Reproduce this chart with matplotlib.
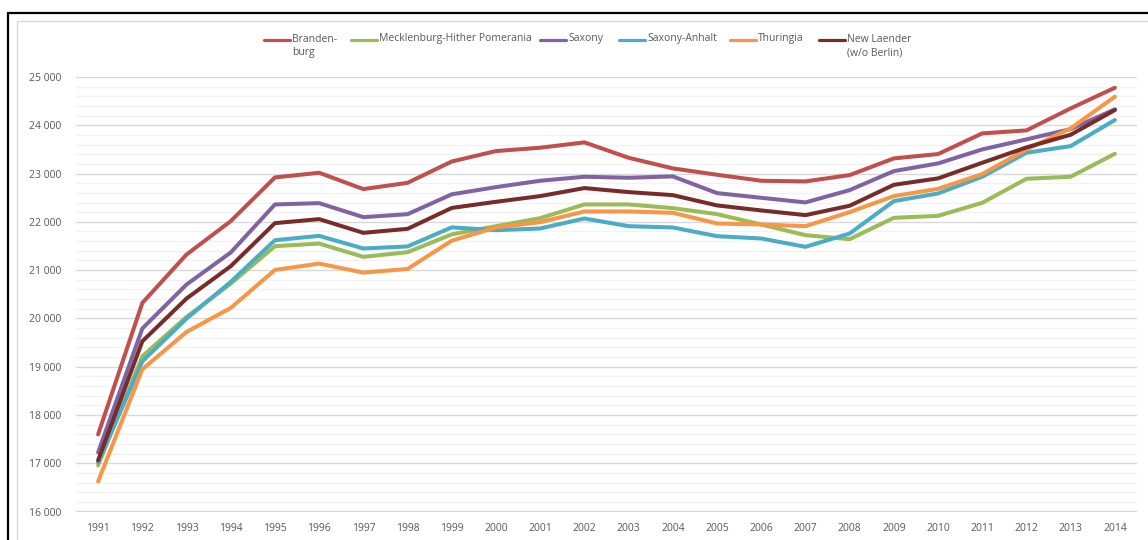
import matplotlib
matplotlib.use("Agg")
import matplotlib.pyplot as plt
from matplotlib.ticker import MultipleLocator, FuncFormatter
from matplotlib.patches import Rectangle
from matplotlib.lines import Line2D

years = list(range(1991, 2015))

brandenburg = [17597, 20320, 21323, 22014, 22920, 23016, 22678, 22808, 23250, 23466, 23535, 23646,
               23327, 23107, 22975, 22851, 22837, 22968, 23314, 23404, 23832, 23894, 24350, 24778]
mecklenburg = [16954, 19214, 20030, 20720, 21495, 21550, 21274, 21371, 21740, 21910, 22076, 22360,
               22360, 22284, 22159, 21945, 21724, 21641, 22083, 22124, 22394, 22892, 22934, 23410]
saxony = [17223, 19790, 20701, 21365, 22360, 22387, 22097, 22159, 22570, 22719, 22851, 22934,
          22913, 22941, 22595, 22498, 22402, 22657, 23051, 23210, 23500, 23708, 23922, 24330]
saxony_anhalt = [17016, 19110, 19996, 20756, 21620, 21709, 21448, 21490, 21886, 21827, 21862, 22069,
                 21910, 21883, 21703, 21655, 21482, 21758, 22429, 22588, 22934, 23431, 23569, 24109]
thuringia = [16622, 18945, 19719, 20216, 21004, 21135, 20948, 21024, 21610, 21883, 21993, 22215,
             22215, 22187, 21966, 21945, 21910, 22201, 22533, 22684, 22989, 23500, 23936, 24592]
new_laender = [17058, 19525, 20411, 21081, 21973, 22056, 21772, 21855, 22288, 22415, 22533, 22699,
               22616, 22553, 22340, 22236, 22139, 22333, 22767, 22900, 23224, 23542, 23804, 24316]

labels = ["Branden-\nburg", "Mecklenburg-Hither Pomerania", "Saxony", "Saxony-Anhalt",
          "Thuringia", "New Laender\n(w/o Berlin)"]
values = [brandenburg, mecklenburg, saxony, saxony_anhalt, thuringia, new_laender]
colors = ["#C0504D", "#9BBB59", "#8064A2", "#4BACC6", "#F79646", "#772C2A"]

plt.rcParams['font.family'] = ['Open Sans', 'DejaVu Sans']

W, H = 1148, 540
fig = plt.figure(figsize=(W / 100, H / 100), dpi=100)
fig.patch.set_facecolor("white")

# outer frames
fig.add_artist(Rectangle((7.5 / W, -0.1), 1.2, (H - 12.5) / H + 0.1, transform=fig.transFigure,
                         fill=False, edgecolor="black", linewidth=1.6))
fig.add_artist(Rectangle((16.5 / W, -0.1), 1.2, (H - 21) / H + 0.1, transform=fig.transFigure,
                         fill=False, edgecolor="#D9D9D9", linewidth=1.0))

left, right = 76 / W, 1137 / W
bottom, top = 1 - 511.5 / H, 1 - 77 / H
ax = fig.add_axes([left, bottom, right - left, top - bottom])

x = list(range(len(years)))
for label, vals, color in zip(labels, values, colors):
    ax.plot(x, vals, color=color, linewidth=2.9, label=label, solid_capstyle="round",
            solid_joinstyle="round")

ax.set_xlim(-0.5, len(years) - 0.5)
ax.set_ylim(16000, 25000)
ax.set_xticks(x)
ax.set_xticklabels([str(y) for y in years])
ax.yaxis.set_major_locator(MultipleLocator(1000))
ax.yaxis.set_minor_locator(MultipleLocator(200))
ax.yaxis.set_major_formatter(FuncFormatter(lambda v, p: f"{int(v):,}".replace(",", " ")))
ax.grid(which="major", axis="y", color="#D9D9D9", linewidth=1.0)
ax.grid(which="minor", axis="y", color="#F2F2F2", linewidth=1.0)
ax.set_axisbelow(True)
for s in ax.spines.values():
    s.set_visible(False)
ax.tick_params(axis="both", which="both", length=0, labelsize=7.5, labelcolor="#595959")
ax.tick_params(axis="y", pad=10.5)
ax.tick_params(axis="x", pad=8)

# manual legend at the top (handle aligned with first text line)
handle_x = [264, 351, 540, 619, 730, 819]
handle_len = 26
leg_y = 40
for hx, label, color in zip(handle_x, labels, colors):
    fig.add_artist(Line2D([hx / W, (hx + handle_len) / W], [1 - leg_y / H, 1 - leg_y / H],
                          transform=fig.transFigure, color=color, linewidth=2.3,
                          solid_capstyle="round"))
    fig.text((hx + handle_len + 2) / W, 1 - (leg_y - 6.5) / H, label, ha="left", va="top",
             fontsize=7.5, color="#595959", linespacing=1.35)

fig.savefig("out.png", dpi=100)
